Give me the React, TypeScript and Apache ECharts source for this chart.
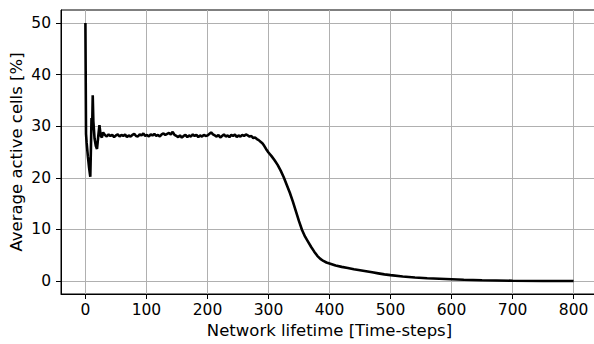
import React, { useEffect, useRef } from "react";
import * as echarts from "echarts";

const timeSteps: number[] = [
  0, 1, 2, 4, 6, 8, 9, 10, 11, 12, 13, 15, 17, 19, 21, 23, 25, 27, 29,
  32, 35, 38, 41, 44, 47, 50, 53, 56, 59, 62, 65, 68, 71, 74, 77, 80, 83, 86, 89,
  92, 95, 98, 101, 104, 107, 110, 113, 116, 119, 122, 125, 128, 131, 134, 137, 140,
  143, 146, 149, 152, 155, 158, 161, 164, 167, 170, 173, 176, 179, 182, 185, 188,
  191, 194, 197, 200, 203, 206, 209, 212, 215, 218, 221, 224, 227, 230, 233, 236,
  239, 242, 245, 248, 251, 254, 257, 260, 263, 266, 269, 272, 275, 278, 281, 284,
  287, 290, 293, 296, 300, 305, 310, 315, 320, 325, 330, 335, 340, 345, 350, 355,
  360, 365, 370, 375, 380, 385, 390, 395, 400, 410, 420, 430, 440, 450, 460, 470,
  480, 490, 500, 520, 540, 560, 580, 600, 620, 650, 700, 750, 800,
];

const activeCells: number[] = [
  50.0, 28.5, 26.8, 24.2, 22.0, 20.2, 25.5, 31.6, 29.5, 36.0, 31.0, 27.6, 26.2, 25.6, 28.0, 30.2, 28.2, 27.8, 28.8,
  28.3, 28.0, 28.4, 28.1, 28.3, 27.9, 28.2, 28.4, 28.0, 28.3, 28.1, 28.4, 27.9, 28.2, 28.0, 28.3, 28.5, 28.1, 28.0, 28.4,
  28.2, 28.6, 28.1, 28.3, 28.0, 28.4, 28.2, 28.5, 28.1, 28.3, 28.0, 28.4, 28.6, 28.3, 28.5, 28.7, 28.4,
  28.9, 28.3, 28.1, 27.9, 28.2, 27.8, 28.1, 28.3, 27.9, 28.2, 28.0, 28.4, 28.1, 28.3, 27.9, 28.2,
  28.0, 28.3, 28.1, 28.2, 28.5, 28.8, 28.4, 28.2, 28.0, 28.3, 27.8, 28.1, 28.4, 28.0, 28.2, 27.9,
  28.3, 28.1, 28.4, 27.9, 28.2, 28.0, 28.3, 28.1, 28.4, 28.2, 28.0, 28.1, 27.7, 27.8, 27.5, 27.3,
  27.0, 26.7, 26.2, 25.6, 24.9, 24.2, 23.4, 22.5, 21.4, 20.1, 18.6, 17.1, 15.4, 13.5, 11.6, 9.9,
  8.6, 7.6, 6.6, 5.7, 4.9, 4.3, 3.9, 3.6, 3.4, 3.0, 2.75, 2.55, 2.3, 2.1, 1.9, 1.7,
  1.5, 1.3, 1.15, 0.9, 0.7, 0.55, 0.45, 0.35, 0.25, 0.15, 0.07, 0.03, 0.01,
];

const xTicks: number[] = [0, 100, 200, 300, 400, 500, 600, 700, 800];
const yTicks: number[] = [0, 10, 20, 30, 40, 50];

const FONT = "DejaVu Sans";

export default function App() {
  const ref = useRef<HTMLDivElement>(null);

  useEffect(() => {
    if (!ref.current) return;
    const chart = echarts.init(ref.current, null, { renderer: "svg" });
    const data = timeSteps.map((t, i) => [t, activeCells[i]]);
    chart.setOption({
      animation: false,
      backgroundColor: "#ffffff",
      grid: {
        left: 61,
        right: -4,
        top: 10,
        bottom: 50,
        containLabel: false,
        outerBoundsMode: "none",
        show: true,
        borderColor: "#000000",
        borderWidth: 1,
        backgroundColor: "transparent",
      },
      xAxis: {
        type: "value",
        min: -40,
        max: 840,
        name: "Network lifetime [Time-steps]",
        nameLocation: "middle",
        nameGap: 28,
        nameMoveOverlap: false,
        nameTextStyle: { fontFamily: FONT, fontSize: 16.5, color: "#000" },
        axisLine: { show: true, onZero: false, lineStyle: { color: "#000", width: 1 } },
        axisTick: {
          show: true,
          length: 5,
          inside: false,
          customValues: xTicks,
          lineStyle: { color: "#000", width: 1 },
        },
        axisLabel: {
          customValues: xTicks,
          margin: 8,
          fontFamily: FONT,
          fontSize: 15.5,
          color: "#000",
        },
        splitLine: { show: true, lineStyle: { color: "#b0b0b0", width: 1 } },
      },
      yAxis: {
        type: "value",
        min: -2.5,
        max: 52.5,
        name: "Average active cells [%]",
        nameLocation: "middle",
        nameGap: 36,
        nameMoveOverlap: false,
        nameTextStyle: { fontFamily: FONT, fontSize: 16.5, color: "#000" },
        axisLine: { show: true, onZero: false, lineStyle: { color: "#000", width: 1 } },
        axisTick: {
          show: true,
          length: 5,
          inside: false,
          customValues: yTicks,
          lineStyle: { color: "#000", width: 1 },
        },
        axisLabel: {
          customValues: yTicks,
          margin: 10,
          fontFamily: FONT,
          fontSize: 15.5,
          color: "#000",
        },
        splitLine: { show: true, lineStyle: { color: "#b0b0b0", width: 1 } },
      },
      series: [
        {
          type: "line",
          data,
          showSymbol: false,
          symbol: "none",
          lineStyle: { color: "#000000", width: 2.6 },
          z: 5,
        },
      ],
    });
    return () => chart.dispose();
  }, []);

  return (
    <div
      ref={ref}
      style={{ position: "absolute", left: 0, top: 0, width: 594, height: 344 }}
    />
  );
}
